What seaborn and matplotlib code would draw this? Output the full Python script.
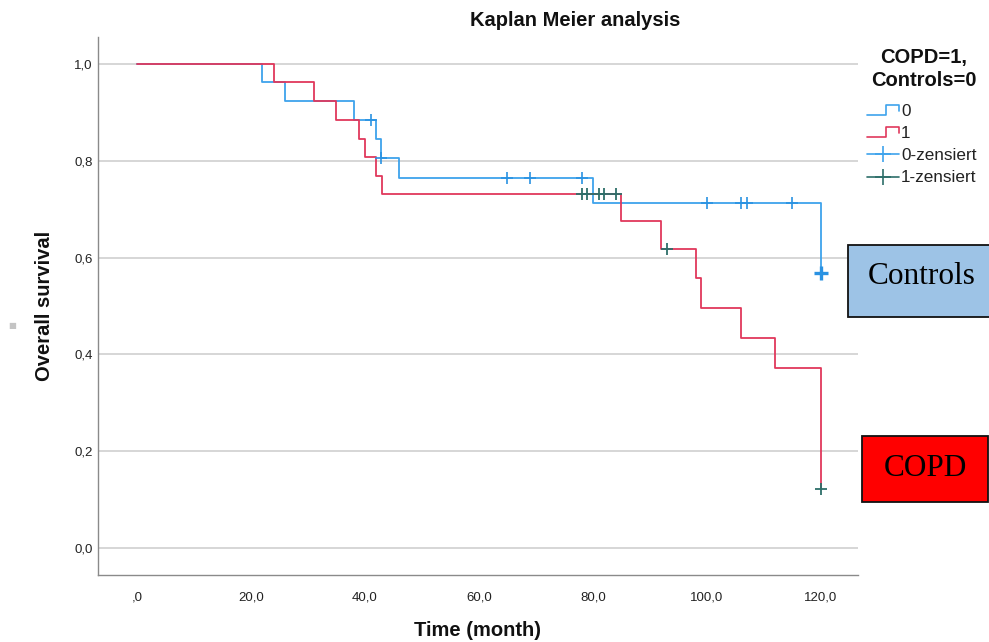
import numpy as np
import pandas as pd
import matplotlib
matplotlib.use("Agg")
import matplotlib.pyplot as plt
import seaborn as sns
from matplotlib.lines import Line2D
from matplotlib.legend_handler import HandlerBase
from matplotlib.patches import Rectangle

# ---------------- data ----------------
ctrl_time = [0, 22, 26, 38, 42.0, 42.8, 46, 80, 120]
ctrl_surv = [1.0, 0.962, 0.923, 0.885, 0.846, 0.805, 0.764, 0.712, 0.569]

copd_time = [0, 24, 31, 35, 39, 40, 42, 43, 85, 92, 98, 99, 106, 112, 120]
copd_surv = [1.0, 0.962, 0.923, 0.885, 0.846, 0.808, 0.769, 0.731,
             0.676, 0.618, 0.557, 0.495, 0.433, 0.371, 0.121]

ctrl_cens_time = [41, 42.8, 65, 69, 78, 100, 106, 107, 115, 120]
ctrl_cens_surv = [0.885, 0.805, 0.764, 0.764, 0.764, 0.712, 0.712, 0.712, 0.712, 0.569]
ctrl_cens_n = [1, 1, 1, 1, 1, 1, 1, 1, 1, 3]

copd_cens_time = [78, 79, 81, 82, 84, 93, 120]
copd_cens_surv = [0.731, 0.731, 0.731, 0.731, 0.731, 0.618, 0.121]

x_ticks = [0, 20, 40, 60, 80, 100, 120]
x_ticklabels = [",0", "20,0", "40,0", "60,0", "80,0", "100,0", "120,0"]
y_ticks = [0.0, 0.2, 0.4, 0.6, 0.8, 1.0]
y_ticklabels = ["0,0", "0,2", "0,4", "0,6", "0,8", "1,0"]

group_labels = ["0", "1"]
cens_labels = ["0-zensiert", "1-zensiert"]

# ---------------- style ----------------
sns.set_theme(style="white")
plt.rcParams["font.family"] = ["Liberation Sans", "DejaVu Sans"]

BLUE = "#3ea3ec"
RED = "#e0385c"
BLUE_C = "#2a92e2"
TEAL = "#2d6e69"

fig = plt.figure(figsize=(9.89, 6.42), dpi=100)
ax = fig.add_axes([98 / 989, 1 - 575 / 642, (858 - 98) / 989, (575 - 37) / 642])

df = pd.concat([
    pd.DataFrame({"time": ctrl_time, "surv": ctrl_surv, "grp": group_labels[0]}),
    pd.DataFrame({"time": copd_time, "surv": copd_surv, "grp": group_labels[1]}),
])

for g, col in zip(group_labels, [BLUE, RED]):
    sub = df[df.grp == g]
    sns.lineplot(data=sub, x="time", y="surv", ax=ax, color=col,
                 drawstyle="steps-post", estimator=None, sort=False,
                 linewidth=1.3, legend=False, zorder=3)

cdf = pd.DataFrame({"t": ctrl_cens_time, "s": ctrl_cens_surv, "n": ctrl_cens_n})
sns.scatterplot(data=cdf[cdf.n == 1], x="t", y="s", ax=ax, marker="+", s=70,
                color=BLUE_C, linewidth=1.2, legend=False, zorder=4)
sns.scatterplot(data=cdf[cdf.n > 1], x="t", y="s", ax=ax, marker="+", s=110,
                color=BLUE_C, linewidth=2.4, legend=False, zorder=4)
sns.scatterplot(x=copd_cens_time, y=copd_cens_surv, ax=ax, marker="+", s=70,
                color=TEAL, linewidth=1.3, legend=False, zorder=5)

ax.set_xlim(-6.84, 126.5)
ax.set_ylim(-0.0558, 1.056)
ax.set_xticks(x_ticks)
ax.set_xticklabels(x_ticklabels)
ax.set_yticks(y_ticks)
ax.set_yticklabels(y_ticklabels)
ax.tick_params(axis="both", length=0, labelsize=9.5, colors="#222222")
ax.tick_params(axis="x", pad=12)
ax.tick_params(axis="y", pad=4)
ax.yaxis.grid(True, color="#cfcfcf", linewidth=1.2)
ax.xaxis.grid(False)
for sp in ["top", "right"]:
    ax.spines[sp].set_visible(False)
for sp in ["left", "bottom"]:
    ax.spines[sp].set_color("#8a8a8a")
    ax.spines[sp].set_linewidth(1.0)

ax.set_xlabel("Time (month)", fontsize=14.5, fontweight="bold", color="#111111")
ax.set_ylabel("Overall survival", fontsize=14.5, fontweight="bold", color="#111111")
ax.xaxis.set_label_coords(0.5, -0.085)
ax.yaxis.set_label_coords(-0.058, 0.5)

fig.text(575 / 989, 1 - 21 / 642, "Kaplan Meier analysis", ha="center", va="center",
         fontsize=14.5, fontweight="bold", color="#111111")

# small grey artefact square on the left
fig.text(12 / 989, 1 - 326 / 642, "■", ha="center", va="center", fontsize=6,
         color="#c4c4c4", family=["DejaVu Sans"])


# ---------------- legend with step icons ----------------
class StepHandler(HandlerBase):
    def create_artists(self, legend, orig_handle, xdescent, ydescent, width,
                       height, fontsize, trans):
        x0 = -xdescent
        y0 = -ydescent
        xs = [x0, x0 + 0.6 * width, x0 + 0.6 * width, x0 + width, x0 + width]
        ys = [y0 + 0.1 * height, y0 + 0.1 * height, y0 + 0.9 * height,
              y0 + 0.9 * height, y0 + 0.45 * height]
        ln = Line2D(xs, ys, color=orig_handle.get_color(), linewidth=1.2,
                    transform=trans)
        return [ln]


# legend title as separate centred text
fig.text(924 / 989, 1 - 57 / 642, "COPD=1,", ha="center", va="center",
         fontsize=14.5, fontweight="bold", color="#111111")
fig.text(924 / 989, 1 - 80 / 642, "Controls=0", ha="center", va="center",
         fontsize=14.5, fontweight="bold", color="#111111")

h0 = Line2D([], [], color=BLUE)
h1 = Line2D([], [], color=RED)
h2 = Line2D([], [], color=BLUE, marker="+", markersize=12, markeredgewidth=1.2, linewidth=1.2)
h3 = Line2D([], [], color=TEAL, marker="+", markersize=12, markeredgewidth=1.2, linewidth=1.2)

leg = fig.legend([h0, h1, h2, h3], group_labels + cens_labels,
                 handler_map={h0: StepHandler(), h1: StepHandler()},
                 loc="upper left", bbox_to_anchor=(855 / 989, 1 - 92 / 642),
                 frameon=False, fontsize=12.3,
                 handlelength=1.9, handletextpad=0.1, labelspacing=0.42,
                 borderpad=0.2)
for t in leg.get_texts():
    t.set_color("#222222")

# ---------------- annotation boxes ----------------
fig.patches.append(Rectangle((848 / 989, 1 - 317 / 642), (995 - 848) / 989, 72 / 642,
                             transform=fig.transFigure, facecolor="#9dc3e6",
                             edgecolor="#111111", linewidth=1.3, zorder=10))
fig.text(922 / 989, 1 - 276 / 642, "Controls", ha="center", va="center",
         fontsize=22.5, family=["Liberation Serif", "DejaVu Serif"], color="black", zorder=11)

fig.patches.append(Rectangle((862 / 989, 1 - 502 / 642), (988 - 862) / 989, 66 / 642,
                             transform=fig.transFigure, facecolor="#ff0000",
                             edgecolor="#111111", linewidth=1.3, zorder=10))
fig.text(925 / 989, 1 - 469 / 642, "COPD", ha="center", va="center",
         fontsize=22.5, family=["Liberation Serif", "DejaVu Serif"], color="black", zorder=11)

fig.savefig("out.png", dpi=100)
